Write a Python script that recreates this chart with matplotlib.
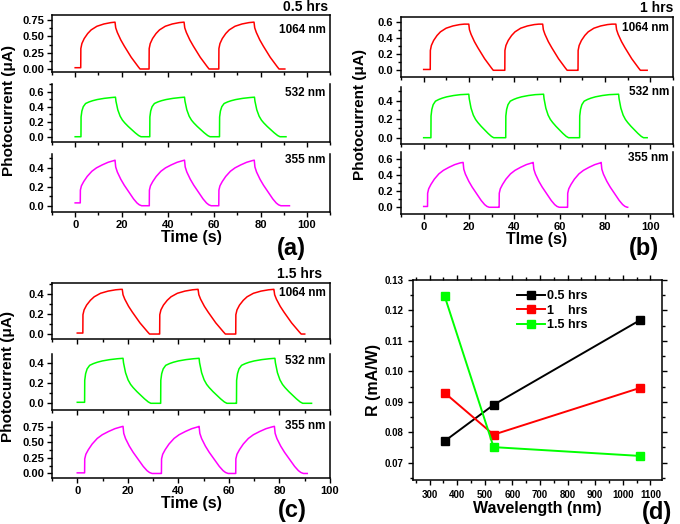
import matplotlib
matplotlib.use('Agg')
import matplotlib.pyplot as plt
from matplotlib.ticker import MultipleLocator, FormatStrFormatter

plt.rcParams['font.family'] = ['Liberation Sans', 'DejaVu Sans']
plt.rcParams['font.weight'] = 'bold'

# ---- data ----
labels = ['1064 nm', '532 nm', '355 nm']
colors = ['#ff0000', '#00ff00', '#ff00ff']

# rise / decay shape of one pulse (seconds after switching, fraction of peak)
red_rise_t = [0, 0.05, 0.5, 1.5, 3, 4.5, 7, 10, 13, 15]
red_rise_f = [0, 0.42, 0.53, 0.64, 0.75, 0.83, 0.91, 0.96, 0.99, 1.0]
red_fall_t = [0, 0.3, 1, 2.5, 4, 5.5, 7, 8.5, 10, 10.8]
red_fall_f = [1.0, 0.88, 0.78, 0.62, 0.49, 0.37, 0.25, 0.15, 0.05, 0]

grn_rise_t = [0, 0.05, 0.4, 1, 2, 3.5, 5, 7, 10, 13]
grn_rise_f = [0, 0.5, 0.65, 0.76, 0.84, 0.88, 0.91, 0.94, 0.97, 0.99]
grn_fall_t = [0, 0.2, 1, 2, 3, 4, 5.5, 7, 8.5, 10, 11]
grn_fall_f = [1, 0.9, 0.68, 0.52, 0.42, 0.35, 0.26, 0.18, 0.1, 0.03, 0]

mag_rise_t = [0, 0.05, 0.5, 1.5, 3, 5, 7, 9.5, 12, 14.5]
mag_rise_f = [0, 0.3, 0.4, 0.5, 0.62, 0.74, 0.82, 0.89, 0.95, 0.99]
mag_fall_t = [0, 0.3, 1, 2.5, 4, 6, 8, 9.5, 10.5, 11.5]
mag_fall_f = [1, 0.85, 0.74, 0.58, 0.45, 0.3, 0.15, 0.06, 0.02, 0]

# panel (a) 0.5 hrs
a_on = [[2.4, 31.9, 62.0], [2.5, 32.2, 62.3], [2.2, 32.0, 62.0]]
a_off = [[17.2, 47.0, 77.2], [17.4, 47.2, 77.4], [17.2, 47.2, 77.3]]
a_end = [90.5, 91.0, 92.5]
a_base = [0.02, 0.0, 0.03]
a_peak = [0.72, 0.525, 0.48]

# panel (b) 1 hrs
b_on = [[2.9, 35.8, 68.1], [3.2, 36.2, 68.8], [1.7, 33.3, 63.5]]
b_off = [[19.9, 52.5, 84.8], [19.9, 52.9, 86.0], [17.4, 48.3, 78.3]]
b_end = [98.6, 98.6, 90.0]
b_base = [0.01, 0.0, 0.01]
b_peak = [0.57, 0.47, 0.56]

# panel (c) 1.5 hrs
c_on = [[2.2, 32.6, 62.7], [2.9, 33.0, 63.0], [2.9, 33.3, 62.7]]
c_off = [[17.8, 47.8, 77.8], [18.1, 48.2, 78.2], [18.1, 48.2, 78.0]]
c_end = [90.0, 92.7, 91.0]
c_base = [0.01, 0.01, 0.01]
c_peak = [0.45, 0.45, 0.76]

# panel (d) responsivity
wavelength = [355, 532, 1064]
r_05 = [0.0771, 0.0890, 0.1169]
r_10 = [0.0929, 0.0792, 0.0946]
r_15 = [0.1246, 0.0751, 0.0722]

W, H = 680, 524
fig = plt.figure(figsize=(W / 100, H / 100), dpi=100)


def box(x0, y0, x1, y1):
    return [x0 / W, 1 - y1 / H, (x1 - x0) / W, (y1 - y0) / H]


def pulses(ons, offs, end, base, peak, rt, rf, ft, ff):
    t, y = [0.0], [base]
    for i in range(len(ons)):
        a, b = ons[i], offs[i]
        t.append(a); y.append(base)
        for dt, f in zip(rt, rf):
            if a + dt < b:
                t.append(a + dt); y.append(base + f * (peak - base))
        t.append(b); y.append(peak)
        stop = ons[i + 1] if i + 1 < len(ons) else end
        for dt, f in zip(ft, ff):
            if b + dt < stop:
                t.append(b + dt); y.append(f * peak)
        t.append(stop); y.append(y[-1])
    return t, y


shapes = [(red_rise_t, red_rise_f, red_fall_t, red_fall_f),
          (grn_rise_t, grn_rise_f, grn_fall_t, grn_fall_f),
          (mag_rise_t, mag_rise_f, mag_fall_t, mag_fall_f)]


def panel(rows, ons, offs, ends, bases, peaks, ylims, ysteps, yfmts,
          xlim, txt_y, xlabel):
    axes = []
    for i, r in enumerate(rows):
        ax = fig.add_axes(box(*r))
        t, y = pulses(ons[i], offs[i], ends[i], bases[i], peaks[i], *shapes[i])
        ax.plot(t, y, color=colors[i], lw=1.1)
        ax.set_xlim(*xlim)
        ax.set_ylim(*ylims[i])
        ax.yaxis.set_major_locator(MultipleLocator(ysteps[i]))
        ax.yaxis.set_minor_locator(MultipleLocator(ysteps[i] / 2))
        ax.yaxis.set_major_formatter(FormatStrFormatter(yfmts[i]))
        ax.xaxis.set_major_locator(MultipleLocator(20))
        ax.xaxis.set_minor_locator(MultipleLocator(10))
        ax.tick_params(which='both', direction='out', labelsize=8, width=1, pad=2)
        ax.tick_params(which='major', length=3.5)
        ax.tick_params(which='minor', length=2)
        for s in ax.spines.values():
            s.set_linewidth(1.1)
        if i > 0:
            ax.spines['top'].set_visible(False)
        if i < 2:
            ax.tick_params(axis='x', labelbottom=False)
        else:
            ax.set_xlabel(xlabel, fontsize=11.5, fontweight='bold', labelpad=0)
        ax.text(0.985, txt_y[i], labels[i], transform=ax.transAxes, ha='right',
                va='center', fontsize=8.5, fontweight='bold',
                bbox=dict(facecolor='white', edgecolor='none', pad=0.5))
        axes.append(ax)
    return axes


# (a)
panel([(52, 15, 330, 72), (52, 84, 330, 142), (52, 154, 330, 212)],
      a_on, a_off, a_end, a_base, a_peak,
      [(-0.046, 0.83), (-0.07, 0.70), (-0.066, 0.545)], [0.25, 0.2, 0.2],
      ['%.2f', '%.1f', '%.1f'], (-10, 110), [0.74, 0.85, 0.90], 'Time (s)')
fig.text(9 / W, 1 - 110 / H, 'Photocurrent (\u03bcA)', rotation=90, ha='center',
         va='center', fontsize=11, fontweight='bold')
fig.text(328 / W, 1 - 7 / H, '0.5 hrs', ha='right', va='center', fontsize=10, fontweight='bold')
fig.text(291 / W, 1 - 248 / H, '(a)', ha='center', va='center', fontsize=17, fontweight='bold')

# (b)
panel([(401, 17, 673, 77), (401, 87, 673, 144), (401, 152, 673, 214)],
      b_on, b_off, b_end, b_base, b_peak,
      [(-0.083, 0.658), (-0.068, 0.548), (-0.084, 0.69)], [0.2, 0.2, 0.2],
      ['%.1f', '%.1f', '%.1f'], (-10, 110), [0.82, 0.92, 0.91], 'TIme (s)')
fig.text(360 / W, 1 - 114 / H, 'Photocurrent (\u03bcA)', rotation=90, ha='center',
         va='center', fontsize=11, fontweight='bold')
fig.text(673 / W, 1 - 8 / H, '1 hrs', ha='right', va='center', fontsize=10, fontweight='bold')
fig.text(644 / W, 1 - 249 / H, '(b)', ha='center', va='center', fontsize=17, fontweight='bold')

# (c)
panel([(52, 283, 330, 339), (52, 354, 330, 410), (52, 422, 330, 478)],
      c_on, c_off, c_end, c_base, c_peak,
      [(-0.05, 0.514), (-0.067, 0.493), (-0.073, 0.83)], [0.2, 0.2, 0.25],
      ['%.1f', '%.1f', '%.2f'], (-10, 100), [0.82, 0.88, 0.92], 'Time (s)')
fig.text(8 / W, 1 - 376 / H, 'Photocurrent (\u03bcA)', rotation=90, ha='center',
         va='center', fontsize=11, fontweight='bold')
fig.text(322 / W, 1 - 274 / H, '1.5 hrs', ha='right', va='center', fontsize=10, fontweight='bold')
fig.text(292 / W, 1 - 510 / H, '(c)', ha='center', va='center', fontsize=17, fontweight='bold')

# (d)
ax = fig.add_axes(box(413, 280, 662, 480))
ax.plot(wavelength, r_05, '-s', color='black', lw=1.4, ms=5.5, label='0.5 hrs')
ax.plot(wavelength, r_10, '-s', color='#ff0000', lw=1.4, ms=5.5, label='1    hrs')
ax.plot(wavelength, r_15, '-s', color='#00ff00', lw=1.4, ms=5.5, label='1.5 hrs')
ax.set_xlim(240, 1142)
ax.set_ylim(0.0643, 0.13)
ax.xaxis.set_major_locator(MultipleLocator(100))
ax.xaxis.set_minor_locator(MultipleLocator(50))
ax.yaxis.set_major_locator(MultipleLocator(0.01))
ax.yaxis.set_minor_locator(MultipleLocator(0.005))
ax.yaxis.set_major_formatter(FormatStrFormatter('%.2f'))
ax.tick_params(which='both', direction='out', labelsize=7, width=1)
ax.tick_params(which='major', length=3.5)
ax.tick_params(which='minor', length=2)
ax.tick_params(which='both', top=True, right=True, labeltop=False, labelright=False)
for s in ax.spines.values():
    s.set_linewidth(1.1)
ax.set_xlabel('Wavelength (nm)', fontsize=11.5, fontweight='bold', labelpad=1)
ax.set_ylabel('R (mA/W)', fontsize=11.5, fontweight='bold', labelpad=2)
ax.legend(loc='upper center', bbox_to_anchor=(0.56, 1.0), frameon=False, fontsize=9,
          handlelength=2.2, handletextpad=0.2, labelspacing=0.2, borderaxespad=0.4)
fig.text(657 / W, 1 - 512 / H, '(d)', ha='center', va='center', fontsize=17, fontweight='bold')

fig.savefig('out.png', dpi=100)
